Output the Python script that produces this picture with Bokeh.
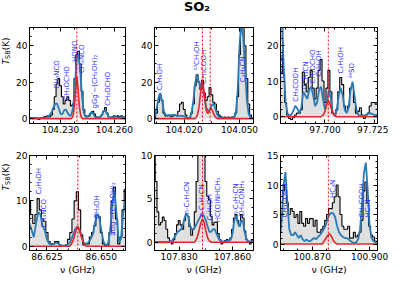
from math import pi
from bokeh.plotting import figure
from bokeh.models import (Range1d, FixedTicker, LinearAxis, Span,
                          PrintfTickFormatter, ColumnDataSource)
from bokeh.core.properties import value
from bokeh.layouts import gridplot, column, row
from bokeh.embed import file_html
from bokeh.resources import INLINE

FONT = "DejaVu Sans"

# ---------------- data ----------------
p1_freq = [104.213, 104.214, 104.215, 104.216, 104.217, 104.218, 104.219, 104.220, 104.221, 104.222,
           104.223, 104.224, 104.225, 104.226, 104.227, 104.228, 104.229, 104.230, 104.231, 104.232,
           104.233, 104.234, 104.235, 104.236, 104.237, 104.238, 104.239, 104.240, 104.241, 104.242,
           104.243, 104.244, 104.245, 104.246, 104.247, 104.248, 104.249, 104.250, 104.251, 104.252,
           104.253, 104.254, 104.255, 104.256, 104.257, 104.258, 104.259, 104.260, 104.261, 104.262,
           104.263, 104.264, 104.265, 104.266]
p1_obs = [0.5, 0.3, 0, 0.5, 0, -0.5, 0.3, 0.5, 1, 1.2, 1.5, 1, 2, 5, 12, 19, 22, 18, 12, 8,
          10, 12, 10, 7, 8, 22, 35, 37, 30, 15, 5, 1.5, 1, 1.5, 3, 4, 2.5, 1, 0.5, 1,
          2, 4, 6, 3, 1, 0.5, 1, 1.5, 1, 1.5, 1, 1.5, 1, 0.5]
p1_model = [0.2, 0.2, 0.2, 0.2, 0.2, 0.2, 0.3, 0.3, 0.4, 0.6, 1, 2, 3.5, 6, 8, 8.3, 5.5, 2.5, 2.5, 4.5,
            5, 3, 1.5, 2, 6, 18, 33, 35, 26, 12, 3, 1, 1.2, 2, 3.5, 3, 1.2, 0.5, 0.5, 0.8,
            2, 4, 4.5, 2.5, 0.8, 0.5, 0.6, 1, 0.8, 0.5, 0.6, 1, 0.8, 0.5]
p1_so2_freq = [104.213, 104.236, 104.2365, 104.237, 104.2375, 104.238, 104.2385, 104.2391, 104.2397,
               104.2402, 104.2407, 104.2412, 104.2417, 104.242, 104.266]
p1_so2 = [0, 0, 0.6, 2, 5, 10, 17, 23, 17, 10, 5, 2, 0.6, 0, 0]
p1_lines = [104.2391]
p1_lab_x = [104.2282, 104.2337, 104.2382, 104.2418, 104.2491, 104.2564]
p1_lab_y = [16.4, 10, 31, 25, 5.5, 7]
p1_lab = ["CH₃NCO", "CH₃OCHO", "HONO", "CH₃NCO", "gGg′−(CH₂OH)₂", "CH₃OCHO"]

p2_freq = [104.004, 104.005, 104.006, 104.007, 104.008, 104.009, 104.010, 104.011, 104.012, 104.013,
           104.014, 104.015, 104.016, 104.017, 104.018, 104.019, 104.020, 104.021, 104.022, 104.023,
           104.024, 104.025, 104.026, 104.027, 104.028, 104.029, 104.030, 104.031, 104.032, 104.033,
           104.034, 104.035, 104.036, 104.037, 104.038, 104.039, 104.040, 104.041, 104.042, 104.043,
           104.044, 104.045, 104.046, 104.047, 104.048, 104.049, 104.050, 104.051, 104.052, 104.053,
           104.054, 104.055, 104.056, 104.057, 104.058]
p2_obs = [0.5, 3, 9, 13, 10, 3, 1.5, 1.5, 2, 1, 1.5, 2, 1.5, 4, 8, 9, 5, 2, 0, 0.5,
          3, 8, 18, 24, 20, 16, 21, 14, 10, 12, 17, 13, 9, 8, 4, 2, 1, 0.5, 0.8, 0.5,
          0.8, 0.5, 0.8, 1, 3, 12, 35, 52, 55, 40, 22, 8, 2, 0.5, 0.3]
p2_model = [1, 5, 11, 14, 10, 4, 2, 1.8, 1.8, 1.8, 2, 2, 1.8, 1.5, 1.5, 1.5, 1.2, 0.8, 0.3, 0.5,
            3, 10, 20, 24, 20, 17, 18, 12, 6, 4, 5, 7.5, 8, 5, 2, 0.8, 0.4, 0.3, 0.3, 0.3,
            0.3, 0.3, 0.4, 0.5, 3, 15, 40, 52, 45, 28, 10, 2.5, 0.6, 0.3, 0.2]
p2_so2_freq = [104.004, 104.026, 104.027, 104.028, 104.0285, 104.029, 104.0295, 104.0299, 104.0305,
               104.031, 104.0315, 104.032, 104.0325, 104.033, 104.0335, 104.034, 104.0345, 104.035,
               104.0355, 104.036, 104.037, 104.038, 104.058]
p2_so2 = [0, 0, 1.5, 6, 10.5, 15, 19, 20, 17, 12.5, 8, 4.5, 3, 3, 4, 5, 5.5, 5, 4, 2.5, 0.8, 0, 0]
p2_lines = [104.0299, 104.0341]
p2_lab_x = [104.0068, 104.0272, 104.0305, 104.0520]
p2_lab_y = [15.5, 26.4, 19, 20]
p2_lab = ["C₂H₅OH", "¹³CH₃OH", "CH₃COOH", "C₂H₅CN"]

p3_freq = [97.677, 97.678, 97.679, 97.680, 97.681, 97.682, 97.683, 97.684, 97.685, 97.686,
           97.687, 97.688, 97.689, 97.690, 97.691, 97.692, 97.693, 97.694, 97.695, 97.696,
           97.697, 97.698, 97.699, 97.700, 97.701, 97.702, 97.703, 97.704, 97.705, 97.706,
           97.707, 97.708, 97.709, 97.710, 97.711, 97.712, 97.713, 97.714, 97.715, 97.716,
           97.717, 97.718, 97.719, 97.720, 97.721, 97.722, 97.723, 97.724, 97.725, 97.726, 97.727]
p3_obs = [40, 28, 12, 4, 0.5, -0.5, -0.8, -0.3, 0.5, 1, 1, 2, 12.5, 9, 7, 11, 13, 8, 5, 8,
          13, 16, 10, 4, 8, 13, 7, 1, 0.5, 2, 7, 11, 9, 3, 1.5, 3, 8, 9, 4, 1,
          1.5, 2.5, 0.5, -0.5, 0.5, 1, 3, 4, 4, 3.5, 4]
p3_model = [40, 30, 14, 4, 0.8, 0.3, 0.6, 1.8, 3.1, 2.2, 1, 2.5, 7, 6, 5, 7.5, 8.4, 6, 3, 4,
            7.5, 8.4, 5, 2, 4, 7.5, 5, 1, 0.5, 2, 6, 8, 6, 2, 1, 2.5, 7.5, 9.8, 6, 2,
            0.5, 0.2, 0.2, 0.3, 0.5, 0.8, 1, 0.8, 0.5, 0.5, 0.4]
p3_so2_freq = [97.677, 97.698, 97.699, 97.700, 97.7005, 97.701, 97.7017, 97.7025, 97.703, 97.704,
               97.705, 97.706, 97.727]
p3_so2 = [0, 0, 0.4, 1.5, 2.5, 3.6, 4.5, 3.8, 2.7, 1, 0.2, 0, 0]
p3_lines = [97.7017]
p3_lab_x = [97.6784, 97.6854, 97.6904, 97.6938, 97.6971, 97.7080, 97.7139]
p3_lab_y = [10.7, 4.2, 7.5, 9.3, 11.2, 12.1, 10.7]
p3_lab = ["CH₃OH", "CH₃COOH", "¹³CH₃CN", "CH₃OCHO", "C₂H₅OH", "C₂H₅OH", "³⁴SO"]

p4_freq = [86.617, 86.618, 86.619, 86.620, 86.621, 86.622, 86.623, 86.624, 86.625, 86.626,
           86.627, 86.628, 86.629, 86.630, 86.631, 86.632, 86.633, 86.634, 86.635, 86.636,
           86.637, 86.638, 86.639, 86.640, 86.641, 86.642, 86.643, 86.644, 86.645, 86.646,
           86.647, 86.648, 86.649, 86.650, 86.651, 86.652, 86.653, 86.654, 86.655, 86.656,
           86.657, 86.658, 86.659, 86.660, 86.661]
p4_obs = [10, 7, 5, 7, 10.5, 8, 6, 5.5, 3, 1, 0.5, 0.5, 1, 1, 0.3, 0, 0, 0.3, 1.5, 3,
          6, 10, 12, 8, 2.5, 0.3, 0.5, 0.5, 2, 3, 4.5, 7, 6.5, 3, 0.5, 0, 0.3, 3, 10, 13,
          6, 0.5, 2, 8, 12.5]
p4_model = [5, 3.5, 2, 5, 7.5, 7, 4.5, 3.5, 1.5, 0.6, 0.3, 0.5, 0.7, 0.7, 0.3, 0.1, 0.1, 0.2, 0.5, 1.2,
            2.5, 3.8, 4.3, 3.6, 2, 0.8, 0.5, 0.8, 1.5, 2.5, 5, 7, 6.5, 3.5, 1, 0.2, 0.5, 3, 9, 12.5,
            7, 1, 1.5, 7, 10]
p4_so2_freq = [86.617, 86.6355, 86.636, 86.637, 86.638, 86.6385, 86.6392, 86.640, 86.6405, 86.641,
               86.642, 86.643, 86.661]
p4_so2 = [0, 0, 0.3, 1.2, 2.8, 3.7, 4.3, 3.5, 2.6, 1.8, 0.5, 0, 0]
p4_lines = [86.6392]
p4_lab_x = [86.6215, 86.6238, 86.6481, 86.6553]
p4_lab_y = [11.4, 4.1, 6, 2.3]
p4_lab = ["C₂H₅OH", "CH₃NCO", "CH₃OH", "aGg′−(CH₂OH)₂"]

p5_freq = [107.816, 107.817, 107.818, 107.819, 107.820, 107.821, 107.822, 107.823, 107.824, 107.825,
           107.826, 107.827, 107.828, 107.829, 107.830, 107.831, 107.832, 107.833, 107.834, 107.835,
           107.836, 107.837, 107.838, 107.839, 107.840, 107.841, 107.842, 107.843, 107.844, 107.845,
           107.846, 107.847, 107.848, 107.849, 107.850, 107.851, 107.852, 107.853, 107.854, 107.855,
           107.856, 107.857, 107.858, 107.859, 107.860, 107.861, 107.862, 107.863, 107.864, 107.865,
           107.866, 107.867, 107.868, 107.869, 107.870, 107.871, 107.872]
p5_obs = [11, 7, 3.5, 2, 2.3, 2.9, 2.5, 1.5, 0.5, 0, -0.2, 0.3, 1, 2, 2.5, 2, 1.5, 2.5, 3.2, 3,
          1.8, 0.8, 1.5, 3.5, 7, 12, 14, 14, 13, 7, 5.3, 4.9, 3, 2, 2.3, 2.3, 1, 0.3, -0.2, 0,
          0.2, 0.3, 0.2, 0.5, 1.5, 2.8, 3.2, 2.5, 1.9, 3.2, 2.8, 1.3, 0.3, 0, -0.2, 0.3, 0.2]
p5_model = [0, 0, 0, 0, 0, 0, 0, 0, 0, 0.1, 0.2, 0.5, 0.8, 1.2, 1.3, 1.5, 2, 2.8, 3.3, 3,
            2, 1.5, 1.5, 1.8, 2.2, 2.6, 3, 3.2, 3, 2.5, 1.8, 1.2, 1.2, 1.5, 1.5, 1, 0.5, 0.2, 0.1, 0.1,
            0.1, 0.1, 0.2, 0.3, 1, 2.5, 3.1, 2.2, 1.8, 2.6, 2.3, 1, 0.3, 0.1, 0.1, 0.1, 0]
p5_so2_freq = [107.816, 107.8385, 107.839, 107.840, 107.841, 107.842, 107.8431, 107.844, 107.845,
               107.846, 107.847, 107.848, 107.872]
p5_so2 = [0, 0, 0.1, 0.5, 1.2, 2.1, 2.7, 2.3, 1.3, 0.5, 0.15, 0, 0]
p5_lines = [107.8431]
p5_lab_x = [107.8343, 107.8427, 107.8472, 107.8516, 107.8619, 107.8652]
p5_lab_y = [3.2, 2.9, 2.5, 2.3, 3, 2.9]
p5_lab = ["n-C₃H₇CN", "n-C₃H₇CN", "C₂H₅OH", "HC(O)NHCH₃", "n-C₃H₇CN", "CH₃CONH₂"]

p6_freq = [100.853, 100.854, 100.855, 100.856, 100.857, 100.858, 100.859, 100.860, 100.861, 100.862,
           100.863, 100.864, 100.865, 100.866, 100.867, 100.868, 100.869, 100.870, 100.871, 100.872,
           100.873, 100.874, 100.875, 100.876, 100.877, 100.878, 100.879, 100.880, 100.881, 100.882,
           100.883, 100.884, 100.885, 100.886, 100.887, 100.888, 100.889, 100.890, 100.891, 100.892,
           100.893, 100.894, 100.895, 100.896, 100.897, 100.898, 100.899, 100.900, 100.901, 100.902,
           100.903, 100.904]
p6_obs = [2, 5, 9, 10, 7, 5, 6, 5.5, 4.5, 5, 3.5, 5.5, 3.5, 3, 4.3, 3.5, 4.3, 4.3, 3, 4,
          2, 2, 2.5, 3, 4, 5, 6, 6, 7, 8, 10, 8, 5, 3, 2.5, 2.5, 3, 1, 1, 2,
          1.2, 1.5, 2, 4, 9, 10.5, 7, 3, 1.5, 1.2, 0.5, 0.3]
p6_model = [1, 4, 10, 12.2, 7, 2.5, 1.5, 1.5, 2, 1.5, 1, 1.5, 0.8, 0.5, 0.8, 0.5, 0.5, 0.8, 1, 0.8,
            1.2, 1.5, 2, 2.5, 3.2, 4.2, 5, 5.3, 5.2, 4.5, 3, 2, 1.5, 1.2, 1, 1, 0.8, 0.5, 0.3, 0.2,
            0.3, 0.8, 2.5, 7, 12, 13.8, 9, 3, 1, 0.5, 0.3, 0.2]
p6_so2_freq = [100.853, 100.8752, 100.876, 100.877, 100.878, 100.8788, 100.8795, 100.880, 100.881,
               100.882, 100.883, 100.904]
p6_so2 = [0, 0, 0.4, 0.9, 1.4, 1.7, 1.6, 1.3, 0.6, 0.2, 0, 0]
p6_lines = [100.8784]
p6_lab_x = [100.8557, 100.8807, 100.8959, 100.8993]
p6_lab_y = [4.5, 7.8, 4.5, 4.5]
p6_lab = ["CH₃COOH", "HC₃N", "CH₃COOH", "HC₃N"]

# axis ranges and ticks
x_ranges = [(104.2127, 104.2662), (104.0039, 104.0576), (97.6774, 97.7267),
            (86.6170, 86.6611), (107.8161, 107.8718), (100.8534, 100.9041)]
y_ranges = [(-2.7, 50), (-2.7, 50), (-1.9, 25), (-0.95, 20), (-0.95, 10), (-1.1, 15)]
x_major = [[104.230, 104.260], [104.020, 104.050], [97.700, 97.725],
           [86.625, 86.650], [107.830, 107.860], [100.870, 100.900]]
x_minor = [[104.215, 104.2225, 104.2375, 104.245, 104.2525],
           [104.005, 104.0125, 104.0275, 104.035, 104.0425],
           [97.680, 97.685, 97.690, 97.695, 97.705, 97.710, 97.715, 97.720],
           [86.620, 86.630, 86.635, 86.640, 86.645, 86.655, 86.660],
           [107.8225, 107.8375, 107.845, 107.8525, 107.8675],
           [100.855, 100.8625, 100.8775, 100.885, 100.8925]]
y_major = [[0, 20, 40], [0, 20, 40], [0, 10, 20], [0, 10, 20], [0, 5, 10], [0, 5, 10, 15]]
y_minor = [[5, 10, 15, 25, 30, 35, 45], [5, 10, 15, 25, 30, 35, 45],
           [2, 4, 6, 8, 12, 14, 16, 18, 22, 24], [2, 4, 6, 8, 12, 14, 16, 18],
           [1, 2, 3, 4, 6, 7, 8, 9], [1, 2, 3, 4, 6, 7, 8, 9, 11, 12, 13, 14]]

title_text = "SO₂"
x_title = "ν (GHz)"
y_title_parts = ["T", "SB", "(K)"]

panels = [
    (p1_freq, p1_obs, p1_model, p1_so2_freq, p1_so2, p1_lines, p1_lab_x, p1_lab_y, p1_lab),
    (p2_freq, p2_obs, p2_model, p2_so2_freq, p2_so2, p2_lines, p2_lab_x, p2_lab_y, p2_lab),
    (p3_freq, p3_obs, p3_model, p3_so2_freq, p3_so2, p3_lines, p3_lab_x, p3_lab_y, p3_lab),
    (p4_freq, p4_obs, p4_model, p4_so2_freq, p4_so2, p4_lines, p4_lab_x, p4_lab_y, p4_lab),
    (p5_freq, p5_obs, p5_model, p5_so2_freq, p5_so2, p5_lines, p5_lab_x, p5_lab_y, p5_lab),
    (p6_freq, p6_obs, p6_model, p6_so2_freq, p6_so2, p6_lines, p6_lab_x, p6_lab_y, p6_lab),
]

# ---------------- layout geometry (px) ----------------
TITLE_H = 14
YLAB_W = 13
COLS = [(122, 14, 10), (125, 19, 7), (128, 20, 11)]   # width, left, right
ROWS = [(126, 13, 17), (137, 15, 26)]                 # height, top, bottom
GRID_W = sum(c[0] for c in COLS)
GRID_H = sum(r[0] for r in ROWS)

OBS_FILL = "#e0e0e0"
MODEL_C = "#2a7ab6"
SO2_C = "#e0282b"
LABEL_C = "#2a2aff"


def style_axis(ax, size="9px", color="black"):
    ax.major_tick_in = 4
    ax.major_tick_out = 0
    ax.minor_tick_in = 2
    ax.minor_tick_out = 0
    ax.axis_line_color = "black"
    ax.major_tick_line_color = "black"
    ax.minor_tick_line_color = "black"
    ax.major_label_text_font = FONT
    ax.major_label_text_font_size = size
    ax.major_label_text_color = color
    ax.major_label_standoff = 2


figs = []
for i, (fq, ob, md, sx, sy, lines, lx, ly, lt) in enumerate(panels):
    r, c = divmod(i, 3)
    W, L, R = COLS[c]
    H, T, B = ROWS[r]
    p = figure(width=W, height=H, output_backend="svg", toolbar_location=None,
               x_range=Range1d(*x_ranges[i]), y_range=Range1d(*y_ranges[i]),
               min_border_left=L, min_border_right=R, min_border_top=T, min_border_bottom=B)
    p.grid.visible = False
    p.outline_line_color = "black"
    p.background_fill_color = "white"
    p.border_fill_color = "white"

    xt = FixedTicker(ticks=x_major[i], minor_ticks=x_minor[i])
    yt = FixedTicker(ticks=y_major[i], minor_ticks=y_minor[i])
    bx = p.xaxis[0]
    ly_ax = p.yaxis[0]
    bx.ticker = xt
    ly_ax.ticker = yt
    bx.formatter = PrintfTickFormatter(format="%.3f")
    style_axis(bx)
    style_axis(ly_ax)
    if r == 1:
        bx.axis_label = x_title
        bx.axis_label_text_font = FONT
        bx.axis_label_text_font_size = "9.5px"
        bx.axis_label_text_font_style = "normal"
        bx.axis_label_text_color = "black"
        bx.axis_label_standoff = 1
    # mirrored inward ticks on top and right (no labels)
    top = LinearAxis(ticker=xt)
    right = LinearAxis(ticker=yt)
    for ax in (top, right):
        style_axis(ax, "1px", None)
        ax.major_label_standoff = 0
    p.add_layout(top, "above")
    p.add_layout(right, "right")

    p.varea_step(x=fq, y1=0, y2=ob, step_mode="center", fill_color=OBS_FILL)
    p.step(fq, ob, mode="center", line_color="black", line_width=1.1)
    p.line(fq, md, line_color=MODEL_C, line_width=1.8)
    p.line(sx, sy, line_color=SO2_C, line_width=1.6)
    for f in lines:
        p.add_layout(Span(location=f, dimension="height", line_color="red",
                          line_dash="2 2", line_width=1))
    src = ColumnDataSource(dict(x=lx, y=ly, t=lt))
    p.text(x="x", y="y", text="t", source=src, angle=pi / 2, text_align="left",
           text_baseline="middle", text_font=value(FONT), text_font_size="7px",
           text_color=LABEL_C)
    figs.append(p)


def blank(w, h):
    f = figure(width=w, height=h, output_backend="svg", toolbar_location=None,
               x_range=Range1d(0, w), y_range=Range1d(h, 0),
               x_axis_location=None, y_axis_location=None, min_border=0)
    f.grid.visible = False
    f.outline_line_color = None
    f.background_fill_color = "white"
    f.border_fill_color = "white"
    return f


# title strip (pixel coordinates inside the strip)
title_fig = blank(YLAB_W + GRID_W, TITLE_H)
title_fig.text(x=[196.5], y=[6], text=[title_text], text_align="center", text_baseline="middle",
               text_font=value(FONT), text_font_size="13px", text_font_style="bold",
               text_color="black")

# y-title strip: T_SB(K) for each row
ylab_fig = blank(YLAB_W, GRID_H)
row_bottoms = [50, 176]
for yb in row_bottoms:
    ylab_fig.text(x=[5], y=[yb], text=[y_title_parts[0]], angle=pi / 2, text_align="left",
                  text_baseline="middle", text_font=value(FONT), text_font_size="9px",
                  text_font_style="italic", text_color="black")
    ylab_fig.text(x=[7.5], y=[yb - 5.6], text=[y_title_parts[1]], angle=pi / 2, text_align="left",
                  text_baseline="middle", text_font=value(FONT), text_font_size="6.5px",
                  text_color="black")
    ylab_fig.text(x=[5], y=[yb - 14.2], text=[y_title_parts[2]], angle=pi / 2, text_align="left",
                  text_baseline="middle", text_font=value(FONT), text_font_size="9px",
                  text_color="black")

grid = gridplot([figs[:3], figs[3:]], toolbar_location=None)
layout = column(title_fig, row(ylab_fig, grid))
open("out.html", "w").write(file_html(layout, INLINE))
